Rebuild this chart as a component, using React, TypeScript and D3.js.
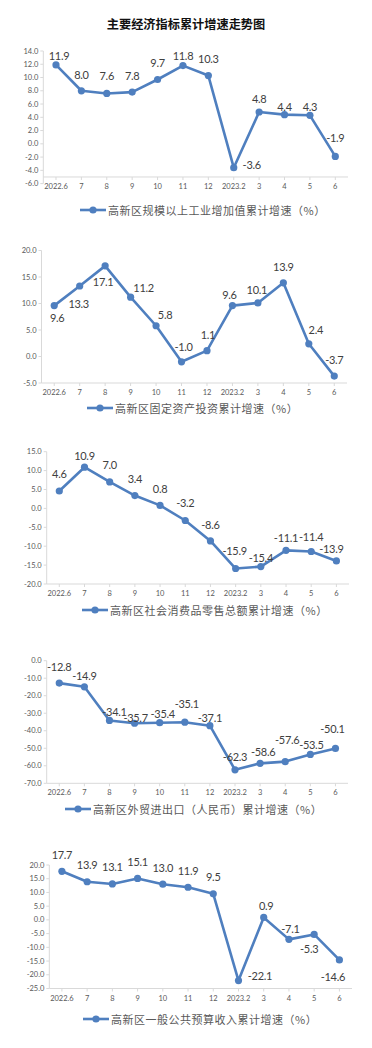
import React from 'react';
import * as d3 from 'd3';

const categories = ['2022.6', '7', '8', '9', '10', '11', '12', '2023.2', '3', '4', '5', '6'];

const industryValues = [11.9, 8.0, 7.6, 7.8, 9.7, 11.8, 10.3, -3.6, 4.8, 4.4, 4.3, -1.9];
const investValues = [9.6, 13.3, 17.1, 11.2, 5.8, -1.0, 1.1, 9.6, 10.1, 13.9, 2.4, -3.7];
const retailValues = [4.6, 10.9, 7.0, 3.4, 0.8, -3.2, -8.6, -15.9, -15.4, -11.1, -11.4, -13.9];
const tradeValues = [-12.8, -14.9, -34.1, -35.7, -35.4, -35.1, -37.1, -62.3, -58.6, -57.6, -53.5, -50.1];
const budgetValues = [17.7, 13.9, 13.1, 15.1, 13.0, 11.9, 9.5, -22.1, 0.9, -7.1, -5.3, -14.6];

const legendNames = [
  '高新区规模以上工业增加值累计增速（%）',
  '高新区固定资产投资累计增速（%）',
  '高新区社会消费品零售总额累计增速（%）',
  '高新区外贸进出口（人民币）累计增速（%）',
  '高新区一般公共预算收入累计增速（%）',
];

const title = '主要经济指标累计增速走势图';

// label nudges (dx, dy) relative to each point
const offsets1 = [[3, -9], [0, -16.5], [0, -17.5], [0, -17], [0, -17], [0, -10.5], [0, -17], [18, -3], [0, -13], [0, -8], [0, -9], [0, -18.5]];
const offsets2 = [[3, 12], [-1, 17], [-2, 16], [13, -10], [9, -11], [2, -15.5], [1, -16.5], [-3, -11], [-1, -13], [0, -16], [7, -14], [0, -17]];
const offsets3 = [[0, -17.5], [0, -12], [0, -17], [0, -17], [0, -17], [0, -17.5], [0, -16], [-1, -18], [0, -9], [0, -12.5], [0, -15], [-5, -12]];
const offsets4 = [[0, -16.5], [0, -11], [5, -8.5], [1, -6], [3, -9.5], [2, -19], [0, -8.5], [0, -13], [3, -12], [2, -22.5], [1, -10], [-3, -20]];
const offsets5 = [[0, -16.5], [0, -17], [0, -17], [0, -17], [0, -17], [0, -17], [0, -17], [21.5, -5.5], [2.5, -12], [1.5, -10.5], [-5, 14], [-6.5, 17]];

const BLUE = '#4f7fbf';
const AXIS = '#d9d9d9';
const TEXT = '#404040';
const TICK = '#595959';

type ChartProps = {
  values: number[];
  offsets: number[][];
  legend: string;
  yMin: number;
  yMax: number;
  step: number;
  yTop: number;
  yBottom: number;
  left: number;
  right: number;
  xAxisAt: number;
  xLabelY: number;
  legendX: number;
  legendY: number;
};

function LineChart(p: ChartProps) {
  const x = d3.scalePoint<string>().domain(categories).range([p.left, p.right]).padding(0.5);
  const y = d3.scaleLinear().domain([p.yMin, p.yMax]).range([p.yBottom, p.yTop]);
  const ticks = d3.range(p.yMin, p.yMax + p.step / 2, p.step);
  const line = d3
    .line<number>()
    .x((_, i) => x(categories[i]) as number)
    .y((d) => y(d));
  const axisY = y(p.xAxisAt);

  return (
    <g>
      <line x1={p.left} x2={p.left} y1={p.yTop} y2={p.yBottom} stroke={AXIS} strokeWidth={1} />
      {ticks.map((t) => (
        <g key={t}>
          <line x1={p.left - 3} x2={p.left} y1={y(t)} y2={y(t)} stroke={AXIS} />
          <text x={p.left - 5} y={y(t)} textAnchor="end" dominantBaseline="central" fontSize={7.5} fill={TICK}>
            {t.toFixed(1)}
          </text>
        </g>
      ))}
      <line x1={p.left} x2={p.right} y1={axisY} y2={axisY} stroke={AXIS} strokeWidth={1} />
      {categories.map((c) => (
        <g key={c}>
          <line x1={x(c)} x2={x(c)} y1={axisY} y2={axisY + 3} stroke={AXIS} />
          <text x={x(c)} y={p.xLabelY} textAnchor="middle" dominantBaseline="central" fontSize={7.5} fill={TICK}>
            {c}
          </text>
        </g>
      ))}
      <path d={line(p.values) || ''} fill="none" stroke={BLUE} strokeWidth={2.6} strokeLinejoin="round" />
      {p.values.map((v, i) => (
        <circle key={i} cx={x(categories[i])} cy={y(v)} r={3.6} fill={BLUE} />
      ))}
      {p.values.map((v, i) => (
        <text
          key={'l' + i}
          x={(x(categories[i]) as number) + p.offsets[i][0]}
          y={y(v) + p.offsets[i][1]}
          textAnchor="middle"
          dominantBaseline="central"
          fontSize={11}
          letterSpacing={-0.3}
          fill={TEXT}
        >
          {v.toFixed(1)}
        </text>
      ))}
      <line x1={p.legendX} x2={p.legendX + 26} y1={p.legendY} y2={p.legendY} stroke={BLUE} strokeWidth={2.6} />
      <circle cx={p.legendX + 13} cy={p.legendY} r={3.6} fill={BLUE} />
      <text
        x={p.legendX + 28}
        y={p.legendY}
        dominantBaseline="central"
        fontSize={11}
        letterSpacing={0.5}
        fill={TICK}
        fontFamily="'Noto Sans CJK SC', sans-serif"
      >
        {p.legend}
      </text>
    </g>
  );
}

export default function App() {
  return (
    <svg
      width={372}
      height={1048}
      style={{ position: 'absolute', left: 0, top: 0, background: '#fff' }}
      fontFamily="Lato, 'Noto Sans CJK SC', sans-serif"
    >
      <text
        x={186}
        y={23.5}
        textAnchor="middle"
        dominantBaseline="central"
        fontSize={12.2}
        fontWeight="bold"
        fill="#111"
        fontFamily="'Noto Sans CJK SC', serif"
      >
        {title}
      </text>
      <LineChart values={industryValues} offsets={offsets1} legend={legendNames[0]} yMin={-6} yMax={14} step={2}
        yTop={51} yBottom={183.6} left={43.3} right={348} xAxisAt={-5} xLabelY={186} legendX={80} legendY={210} />
      <LineChart values={investValues} offsets={offsets2} legend={legendNames[1]} yMin={-5} yMax={20} step={5}
        yTop={250.5} yBottom={383} left={41.5} right={347} xAxisAt={-5} xLabelY={392.3} legendX={87} legendY={408} />
      <LineChart values={retailValues} offsets={offsets3} legend={legendNames[2]} yMin={-20} yMax={15} step={5}
        yTop={451.7} yBottom={584} left={46.7} right={349} xAxisAt={-20} xLabelY={593} legendX={82} legendY={610} />
      <LineChart values={tradeValues} offsets={offsets4} legend={legendNames[3]} yMin={-70} yMax={0} step={10}
        yTop={660.7} yBottom={783.3} left={46.7} right={348} xAxisAt={-70} xLabelY={792.7} legendX={65} legendY={809} />
      <LineChart values={budgetValues} offsets={offsets5} legend={legendNames[4]} yMin={-25} yMax={20} step={5}
        yTop={865} yBottom={988.5} left={49.3} right={352} xAxisAt={-25} xLabelY={998} legendX={83} legendY={1019} />
    </svg>
  );
}
